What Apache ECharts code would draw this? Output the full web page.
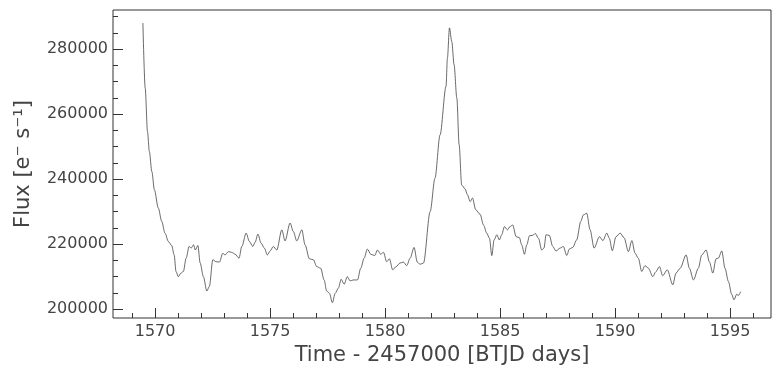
<!DOCTYPE html>
<html>
<head>
<meta charset="utf-8">
<script src="https://cdn.jsdelivr.net/npm/echarts@6/dist/echarts.min.js"></script>
<style>
html,body{margin:0;padding:0;background:#fff;}
#c{width:780px;height:376px;}
</style>
</head>
<body>
<div id="c"></div>
<script>
const time = [1569.47,1569.57,1569.67,1569.75,1569.86,1569.97,1570.14,1570.29,1570.43,1570.58,1570.72,1570.83,1570.91,1571.01,1571.12,1571.23,1571.35,1571.48,1571.57,1571.67,1571.75,1571.86,1571.96,1572.10,1572.25,1572.36,1572.51,1572.65,1572.80,1572.94,1573.04,1573.19,1573.33,1573.48,1573.65,1573.77,1573.96,1574.10,1574.25,1574.35,1574.47,1574.61,1574.75,1574.88,1575.00,1575.14,1575.29,1575.51,1575.65,1575.87,1576.01,1576.16,1576.38,1576.52,1576.71,1576.88,1577.03,1577.20,1577.35,1577.46,1577.58,1577.71,1577.83,1577.97,1578.09,1578.22,1578.36,1578.48,1578.62,1578.80,1578.94,1579.09,1579.23,1579.38,1579.55,1579.67,1579.81,1579.93,1580.07,1580.19,1580.33,1580.48,1580.65,1580.80,1580.94,1581.09,1581.26,1581.40,1581.52,1581.67,1581.96,1582.17,1582.39,1582.65,1582.71,1582.80,1582.90,1583.00,1583.12,1583.22,1583.33,1583.48,1583.58,1583.70,1583.80,1583.94,1584.13,1584.28,1584.42,1584.54,1584.64,1584.74,1584.86,1584.97,1585.07,1585.19,1585.32,1585.43,1585.55,1585.70,1585.84,1585.94,1586.06,1586.16,1586.28,1586.42,1586.53,1586.67,1586.81,1586.91,1587.00,1587.14,1587.29,1587.43,1587.61,1587.75,1587.90,1588.01,1588.16,1588.33,1588.51,1588.62,1588.77,1588.91,1589.09,1589.32,1589.47,1589.64,1589.75,1589.88,1590.04,1590.22,1590.39,1590.58,1590.73,1590.87,1591.01,1591.16,1591.30,1591.45,1591.64,1591.78,1591.93,1592.07,1592.27,1592.51,1592.65,1592.83,1593.09,1593.23,1593.41,1593.62,1593.77,1593.96,1594.10,1594.25,1594.39,1594.49,1594.64,1594.78,1594.93,1595.07,1595.17,1595.29,1595.36,1595.46];
const flux = [288000,268000,254600,248500,242300,236700,231100,227000,223400,220800,219600,216700,211600,210000,211100,211600,215700,219300,218800,219800,218200,219600,214200,210000,205600,207000,215200,214600,214500,217200,216700,217700,217500,216900,215700,219300,223400,220800,219300,220600,223100,220300,218800,216700,217900,219300,218200,224400,221000,226500,223900,221000,224400,219800,215500,215200,213100,212600,209000,205600,204900,202000,204900,206500,209200,207700,210000,208700,209000,209000,212600,215700,218500,216900,216500,218200,216900,217500,214600,215500,212100,213100,214200,214500,213400,215700,219000,214500,213800,214200,230000,240300,253600,268500,277200,286500,282300,275200,264900,250600,238200,237000,235200,233100,234200,230600,229200,225900,223400,221800,216500,221300,222900,221300,222900,225400,224400,225400,225900,222300,222000,219800,216900,219800,222600,222700,223300,221800,218200,218800,222900,222700,219300,217900,218800,219300,216500,218500,219000,221300,227000,229000,229500,224500,218800,222300,221100,223400,221800,218000,222300,223400,222000,217700,221100,217200,215700,211600,213400,212600,210000,211600,213100,210300,212100,207500,211100,212600,216700,212600,209000,212600,216700,218200,214600,211100,215500,215700,217900,212600,208500,204600,202900,204600,204200,205400];
const xMajorTicks = [1570,1575,1580,1585,1590,1595];
const xMinorTicks = [1569,1571,1572,1573,1574,1576,1577,1578,1579,1581,1582,1583,1584,1586,1587,1588,1589,1591,1592,1593,1594,1596];
const yMajorTicks = [200000,220000,240000,260000,280000];
const yMinorTicks = [205000,210000,215000,225000,230000,235000,245000,250000,255000,265000,270000,275000,285000,290000];
const xTitle = 'Time - 2457000 [BTJD days]';
const yTitle = 'Flux [e\u207B s\u207B\u00B9]';

const X_MIN = 1568.17, X_MAX = 1596.78, Y_MIN = 197300, Y_MAX = 292000;
const FONT = 'DejaVu Sans';
const C = '#444';

const chart = echarts.init(document.getElementById('c'), null, {renderer: 'canvas'});
const common = {type: 'value', splitLine: {show: false}, axisLine: {show: false}};
chart.setOption({
  animation: false,
  backgroundColor: '#fff',
  grid: {left: 113, right: 9, top: 10, bottom: 58, show: true, borderColor: '#333', borderWidth: 1, containLabel: false},
  xAxis: [
    Object.assign({}, common, {
      position: 'bottom', min: X_MIN, max: X_MAX,
      name: xTitle, nameLocation: 'middle', nameGap: 26,
      nameTextStyle: {fontFamily: FONT, fontSize: 21, color: C},
      axisTick: {show: true, inside: true, length: 10, lineStyle: {color: '#333', width: 1}, customValues: xMajorTicks},
      axisLabel: {show: true, margin: 6, fontFamily: FONT, fontSize: 16, color: C, customValues: xMajorTicks, formatter: v => String(v)}
    }),
    Object.assign({}, common, {
      position: 'bottom', min: X_MIN, max: X_MAX,
      axisTick: {show: true, inside: true, length: 5, lineStyle: {color: '#333', width: 1}, customValues: xMinorTicks},
      axisLabel: {show: false}
    })
  ],
  yAxis: [
    Object.assign({}, common, {
      position: 'left', min: Y_MIN, max: Y_MAX,
      name: yTitle, nameLocation: 'middle', nameGap: 79, nameRotate: 90,
      nameTextStyle: {fontFamily: FONT, fontSize: 21, color: C},
      axisTick: {show: true, inside: true, length: 10, lineStyle: {color: '#333', width: 1}, customValues: yMajorTicks},
      axisLabel: {show: true, margin: 5, fontFamily: FONT, fontSize: 16, color: C, customValues: yMajorTicks, formatter: v => String(v)}
    }),
    Object.assign({}, common, {
      position: 'left', min: Y_MIN, max: Y_MAX,
      axisTick: {show: true, inside: true, length: 5, lineStyle: {color: '#333', width: 1}, customValues: yMinorTicks},
      axisLabel: {show: false}
    })
  ],
  series: [{
    type: 'line',
    xAxisIndex: 0, yAxisIndex: 0,
    data: time.map((t, i) => [t, flux[i]]),
    showSymbol: false,
    smooth: 0.3,
    smoothMonotone: 'x',
    lineStyle: {color: '#3a3a3a', width: 0.75},
    silent: true
  }]
});
</script>
</body>
</html>
